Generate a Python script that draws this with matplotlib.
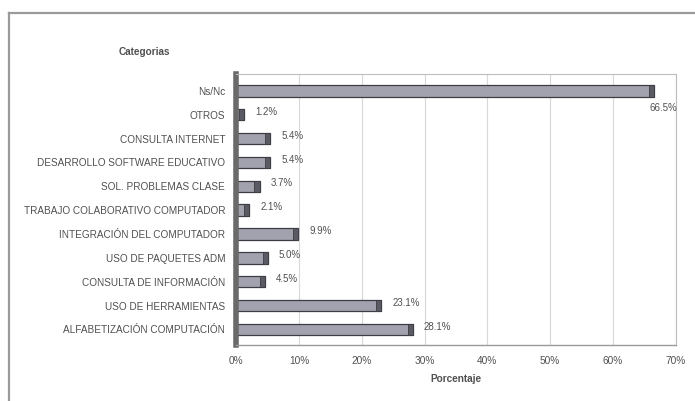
import numpy as np
import matplotlib.pyplot as plt

categorias = [
    "Ns/Nc",
    "OTROS",
    "CONSULTA INTERNET",
    "DESARROLLO SOFTWARE EDUCATIVO",
    "SOL. PROBLEMAS CLASE",
    "TRABAJO COLABORATIVO COMPUTADOR",
    "INTEGRACIÓN DEL COMPUTADOR",
    "USO DE PAQUETES ADM",
    "CONSULTA DE INFORMACIÓN",
    "USO DE HERRAMIENTAS",
    "ALFABETIZACIÓN COMPUTACIÓN",
]
porcentaje = [66.5, 1.2, 5.4, 5.4, 3.7, 2.1, 9.9, 5.0, 4.5, 23.1, 28.1]
etiquetas = ["66.5%", "1.2%", "5.4%", "5.4%", "3.7%", "2.1%", "9.9%", "5.0%", "4.5%", "23.1%", "28.1%"]
xticks = [0, 10, 20, 30, 40, 50, 60, 70]

txt = "#505050"
plt.rcParams["font.family"] = "Liberation Sans"

fig = plt.figure(figsize=(6.95, 4.01), dpi=100)
fig.patch.set_facecolor("white")

# marco exterior
fig.add_artist(plt.Line2D([0.013, 0.013], [0.0, 0.968], color="#9a9a9a", lw=1.6))
fig.add_artist(plt.Line2D([0.013, 1.0], [0.968, 0.968], color="#9a9a9a", lw=1.6))

ax = fig.add_axes([0.34, 0.14, 0.632, 0.675])
y = np.arange(len(categorias))

ax.set_xlim(0, 70)
ax.set_ylim(len(categorias) - 0.35, -0.7)

for t in xticks[1:]:
    ax.axvline(t, color="#d8d8d8", lw=0.8, zorder=0)

# barras con remate oscuro en el extremo
ax.barh(y, porcentaje, height=0.48, color="#a2a2ae", edgecolor="#3c3c44", lw=0.9, zorder=2)
cap = 0.8
ax.barh(y, [cap] * len(porcentaje), left=[v - cap for v in porcentaje], height=0.48,
        color="#5a5a63", edgecolor="#3c3c44", lw=0.6, zorder=3)

for i, (v, s) in enumerate(zip(porcentaje, etiquetas)):
    if i == 0:
        ax.annotate(s, (v, i), xytext=(-3, -12), textcoords="offset points",
                    ha="left", va="center", fontsize=7, color=txt)
    else:
        ax.annotate(s, (v, i), xytext=(8, 2), textcoords="offset points",
                    ha="left", va="center", fontsize=7, color=txt)

ax.set_yticks(y)
ax.set_yticklabels(categorias, fontsize=7.2, color=txt)
ax.set_xticks(xticks)
ax.set_xticklabels([f"{t}%" for t in xticks], fontsize=7.3, color=txt)
ax.tick_params(length=0)
ax.tick_params(axis="y", pad=8)
ax.tick_params(axis="x", pad=8)

for side in ("top", "right"):
    ax.spines[side].set_color("#bdbdbd")
    ax.spines[side].set_linewidth(0.8)
ax.spines["bottom"].set_color("#9a9a9a")
ax.spines["bottom"].set_linewidth(1.0)
ax.spines["left"].set_color("#6a6a6a")
ax.spines["left"].set_linewidth(4)

ax.set_xlabel("Porcentaje", fontsize=7.2, fontweight="bold", color=txt, labelpad=6)
fig.text(0.208, 0.862, "Categorias", fontsize=7.2, fontweight="bold", color=txt, ha="center")

fig.savefig("out.png", dpi=100)
